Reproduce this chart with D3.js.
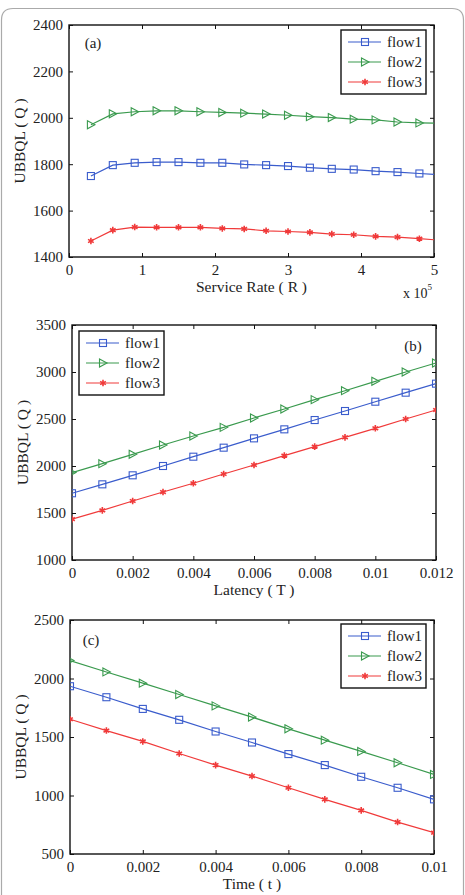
<!DOCTYPE html>
<html>
<head>
<meta charset="utf-8">
<script src="https://cdn.jsdelivr.net/npm/d3@7"></script>
<style>
  html, body { margin: 0; padding: 0; background: #fff; }
  svg text { font-family: 'Times New Roman', 'Liberation Serif', Times, 'DejaVu Serif', serif; fill: #222; }
</style>
</head>
<body>
<div id="chart"></div>
<script>
// ---- data ----
const seriesNames = ['flow1', 'flow2', 'flow3']

// (a) service rate, x 10^5
const rateX = [0.3, 0.6, 0.9, 1.2, 1.5, 1.8, 2.1, 2.4, 2.7, 3.0, 3.3, 3.6, 3.9, 4.2, 4.5, 4.8, 5.1]
const rateFlow1 = [1749, 1796, 1806, 1809, 1809, 1806, 1806, 1799, 1796, 1792, 1785, 1780, 1777, 1770, 1766, 1760, 1754]
const rateFlow2 = [1970, 2017, 2026, 2030, 2030, 2026, 2023, 2020, 2016, 2011, 2005, 2001, 1994, 1991, 1982, 1978, 1976]
const rateFlow3 = [1469, 1516, 1529, 1528, 1528, 1528, 1523, 1521, 1513, 1510, 1506, 1499, 1496, 1489, 1486, 1479, 1472]
const rateXTicks = [0, 1, 2, 3, 4, 5]
const rateYTicks = [1400, 1600, 1800, 2000, 2200, 2400]

// (b) latency
const latX = [0, 0.001, 0.002, 0.003, 0.004, 0.005, 0.006, 0.007, 0.008, 0.009, 0.01, 0.011, 0.012]
const latFlow1 = [1710, 1805, 1901, 2000, 2099, 2195, 2294, 2390, 2489, 2585, 2684, 2780, 2876]
const latFlow2 = [1930, 2025, 2124, 2223, 2319, 2411, 2511, 2606, 2706, 2801, 2901, 3000, 3096]
const latFlow3 = [1435, 1528, 1628, 1723, 1816, 1915, 2011, 2110, 2206, 2305, 2401, 2500, 2596]
const latXTicks = [0, 0.002, 0.004, 0.006, 0.008, 0.01, 0.012]
const latYTicks = [1000, 1500, 2000, 2500, 3000, 3500]

// (c) time
const timeX = [0, 0.001, 0.002, 0.003, 0.004, 0.005, 0.006, 0.007, 0.008, 0.009, 0.01]
const timeFlow1 = [1934, 1840, 1740, 1647, 1547, 1453, 1354, 1260, 1160, 1066, 967]
const timeFlow2 = [2153, 2056, 1960, 1863, 1766, 1670, 1570, 1473, 1377, 1280, 1180]
const timeFlow3 = [1652, 1555, 1462, 1359, 1260, 1166, 1066, 967, 873, 773, 682]
const timeXTicks = [0, 0.002, 0.004, 0.006, 0.008, 0.01]
const timeYTicks = [500, 1000, 1500, 2000, 2500]

const colors = ['#3a5ccc', '#3a9a4e', '#f03a3a']
const markers = ['square', 'triangle', 'star']
const serif = "'Times New Roman', 'Liberation Serif', Times, 'DejaVu Serif', serif"

const width = 465
const height = 895

const svg = d3.select('#chart')
  .append('svg')
  .attr('width', width)
  .attr('height', height)
  .attr('font-family', serif)

// outer rounded frame
svg.append('path')
  .attr('d', `M 1.5 ${height + 5} L 1.5 20 Q 1.5 8.5 13 8.5 L 452 8.5 Q 463.5 8.5 463.5 20 L 463.5 ${height + 5}`)
  .attr('fill', 'none')
  .attr('stroke', '#aaa')
  .attr('stroke-width', 1.2)

const panels = [
  {
    id: 'a', left: 69, right: 434, top: 25, bottom: 257,
    xs: rateX, ys: [rateFlow1, rateFlow2, rateFlow3],
    xDomain: [0, 5], yDomain: [1400, 2400],
    xTicks: rateXTicks, yTicks: rateYTicks, fmt: d => String(d),
    xLabel: 'Service Rate ( R )', tag: '(a)', tagPos: [93, 48],
    legend: [341, 30], exponent: true
  },
  {
    id: 'b', left: 72, right: 436, top: 325, bottom: 560,
    xs: latX, ys: [latFlow1, latFlow2, latFlow3],
    xDomain: [0, 0.012], yDomain: [1000, 3500],
    xTicks: latXTicks, yTicks: latYTicks, fmt: d => String(+d.toFixed(3)),
    xLabel: 'Latency ( T )', tag: '(b)', tagPos: [413, 351],
    legend: [79, 331]
  },
  {
    id: 'c', left: 70, right: 434, top: 620, bottom: 854,
    xs: timeX, ys: [timeFlow1, timeFlow2, timeFlow3],
    xDomain: [0, 0.01], yDomain: [500, 2500],
    xTicks: timeXTicks, yTicks: timeYTicks, fmt: d => String(+d.toFixed(3)),
    xLabel: 'Time ( t )', tag: '(c)', tagPos: [91, 645],
    legend: [341, 624]
  }
]

function drawMarker(g, type, x, y, color) {
  if (type === 'square') {
    g.append('rect')
      .attr('x', x - 3.5).attr('y', y - 3.5)
      .attr('width', 7).attr('height', 7)
      .attr('fill', 'none').attr('stroke', color).attr('stroke-width', 1.1)
  } else if (type === 'triangle') {
    g.append('path')
      .attr('d', `M ${x - 3.5} ${y - 4} L ${x + 4} ${y} L ${x - 3.5} ${y + 4} Z`)
      .attr('fill', 'none').attr('stroke', color).attr('stroke-width', 1.1)
  } else {
    g.append('path')
      .attr('d', d3.symbol(d3.symbolAsterisk, 30)())
      .attr('transform', `translate(${x},${y})`)
      .attr('fill', 'none').attr('stroke', color).attr('stroke-width', 1.6)
  }
}

panels.forEach(p => {
  const g = svg.append('g').attr('class', 'panel-' + p.id)
  const x = d3.scaleLinear().domain(p.xDomain).range([p.left, p.right])
  const y = d3.scaleLinear().domain(p.yDomain).range([p.bottom, p.top])

  const clipId = 'clip-' + p.id
  g.append('clipPath').attr('id', clipId)
    .append('rect')
    .attr('x', p.left).attr('y', p.top)
    .attr('width', p.right - p.left).attr('height', p.bottom - p.top)

  // axes: bottom/left with labels, top/right ticks only (inward)
  g.append('g')
    .attr('transform', `translate(0,${p.bottom})`)
    .call(d3.axisBottom(x).tickValues(p.xTicks).tickFormat(p.fmt).tickSizeInner(-4).tickSizeOuter(0).tickPadding(7))
  g.append('g')
    .attr('transform', `translate(0,${p.top})`)
    .call(d3.axisTop(x).tickValues(p.xTicks).tickFormat('').tickSizeInner(-4).tickSizeOuter(0))
  g.append('g')
    .attr('transform', `translate(${p.left},0)`)
    .call(d3.axisLeft(y).tickValues(p.yTicks).tickFormat(d => String(d)).tickSizeInner(-4).tickSizeOuter(0).tickPadding(6))
  g.append('g')
    .attr('transform', `translate(${p.right},0)`)
    .call(d3.axisRight(y).tickValues(p.yTicks).tickFormat('').tickSizeInner(-4).tickSizeOuter(0))

  g.selectAll('.domain').remove()
  g.selectAll('g').attr('font-family', serif)
  g.selectAll('.tick line').attr('stroke', '#111').attr('stroke-width', 1)
  g.selectAll('.tick text')
    .attr('font-family', serif)
    .attr('font-size', 15)
    .attr('fill', '#222')

  g.append('rect')
    .attr('x', p.left).attr('y', p.top)
    .attr('width', p.right - p.left).attr('height', p.bottom - p.top)
    .attr('fill', 'none').attr('stroke', '#111').attr('stroke-width', 1.4)

  // series
  const plot = g.append('g').attr('clip-path', `url(#${clipId})`)
  const line = d3.line().x(d => x(d[0])).y(d => y(d[1]))
  p.ys.forEach((vals, k) => {
    const pts = p.xs.map((xv, i) => [xv, vals[i]])
    plot.append('path')
      .datum(pts)
      .attr('d', line)
      .attr('fill', 'none')
      .attr('stroke', colors[k])
      .attr('stroke-width', 1.2)
    pts.forEach(d => drawMarker(plot, markers[k], x(d[0]), y(d[1]), colors[k]))
  })

  // labels
  g.append('text')
    .attr('x', (p.left + p.right) / 2)
    .attr('y', p.bottom + 35)
    .attr('text-anchor', 'middle')
    .attr('font-size', 15.5)
    .text(p.xLabel)
  g.append('text')
    .attr('transform', `translate(${p.left - 44},${(p.top + p.bottom) / 2}) rotate(-90)`)
    .attr('text-anchor', 'middle')
    .attr('font-size', 15.5)
    .text('UBBQL ( Q )')
  g.append('text')
    .attr('x', p.tagPos[0]).attr('y', p.tagPos[1])
    .attr('text-anchor', 'middle')
    .attr('font-size', 15)
    .text(p.tag)

  if (p.exponent) {
    const t = g.append('text')
      .attr('x', p.right - 31).attr('y', p.bottom + 41)
      .attr('font-size', 14)
    t.append('tspan').text('x 10')
    t.append('tspan').attr('dy', -8).attr('font-size', 9).text('5')
  }

  // legend
  const [lx, ly] = p.legend
  const lg = g.append('g').attr('transform', `translate(${lx},${ly})`)
  lg.append('rect')
    .attr('width', 85).attr('height', 64)
    .attr('fill', '#fff').attr('stroke', '#111').attr('stroke-width', 1.4)
  seriesNames.forEach((name, k) => {
    const yy = 12 + k * 20
    lg.append('line')
      .attr('x1', 7).attr('x2', 40).attr('y1', yy).attr('y2', yy)
      .attr('stroke', colors[k]).attr('stroke-width', 1.2)
    drawMarker(lg, markers[k], 24, yy, colors[k])
    lg.append('text')
      .attr('x', 46).attr('y', yy + 5)
      .attr('font-size', 15)
      .text(name)
  })
})
</script>
</body>
</html>
